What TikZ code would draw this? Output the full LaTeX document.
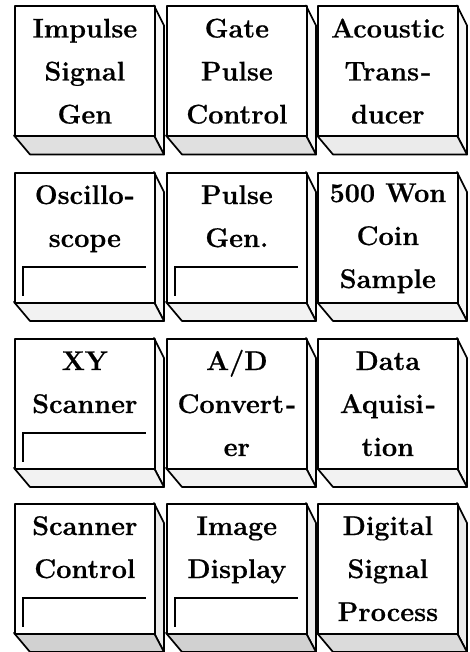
\documentclass[tikz,border=0pt]{standalone}
\usepackage{fontspec}
\setmainfont{Latin Modern Roman}[BoldFeatures={FakeBold=0.6}]
\begin{document}
\begin{tikzpicture}[x=1pt,y=-1pt,
  front/.style={draw, line width=1.7pt, fill=white, minimum width=140pt, minimum height=130pt, anchor=north west, inner sep=0pt, line join=round},
  face/.style={draw, line width=1.7pt, line join=round},
  boxlabel/.style={anchor=base, align=center, font=\fontsize{27}{43}\selectfont\bfseries, inner sep=0pt},
  screen/.style={line width=1.7pt}]
\useasboundingbox (0,0) rectangle (470,652);
\newcommand\mycube[8]{%
  \fill[white] (#2,#3) rectangle ++(140,130);
  \filldraw[face, fill=black!#5] (#2,#3) ++(140,0) -- ++(10,20) -- ++(0,129) -- ++(-10,-19) -- cycle;
  \filldraw[face, fill=black!#4] (#2,#3) ++(0,130) -- ++(16,19) -- ++(134,0) -- ++(-10,-19) -- cycle;
  \node[front] (#1) at (#2,#3) {};
  \node[boxlabel] (#1t) at ([yshift=-#8pt]#1.north) {#6};
  #7}
\newcommand\myscreen[1]{\draw[screen] ([shift={(9,-8)}]#1.south west) -- ([shift={(9,-37)}]#1.south west) -- ([shift={(132,-37)}]#1.south west);}
% row 1
\mycube{a1}{14}{5.5}{12}{3}{Impulse\\Signal\\Gen}{}{118}
\mycube{a2}{166}{5.5}{12}{3}{Gate\\Pulse\\Control}{}{118}
\mycube{a3}{317}{5.5}{8}{3}{Acoustic\\Trans\kern2pt-\\ducer}{}{118}
% row 2
\mycube{b1}{14}{172}{5}{3}{Oscillo\kern1pt-\\scope}{\myscreen{b1}}{75}
\mycube{b2}{166}{172}{5}{3}{Pulse\\Gen.}{\myscreen{b2}}{75}
\mycube{b3}{317}{172}{5}{3}{500 Won\\Coin\\Sample}{}{116}
% row 3
\mycube{c1}{14}{338}{5}{3}{XY\\Scanner}{\myscreen{c1}}{75}
\mycube{c2}{166}{338}{5}{3}{A/D\\Convert\kern2pt-\\er}{}{118}
\mycube{c3}{317}{338}{5}{3}{Data\\Aquisi\kern2pt-\\tion}{}{118}
% row 4
\mycube{d1}{14}{503}{18}{8}{Scanner\\Control}{\myscreen{d1}}{75}
\mycube{d2}{166}{503}{18}{8}{Image\\Display}{\myscreen{d2}}{75}
\mycube{d3}{317}{503}{14}{8}{Digital\\Signal\\Process}{}{118}
\end{tikzpicture}
\end{document}
